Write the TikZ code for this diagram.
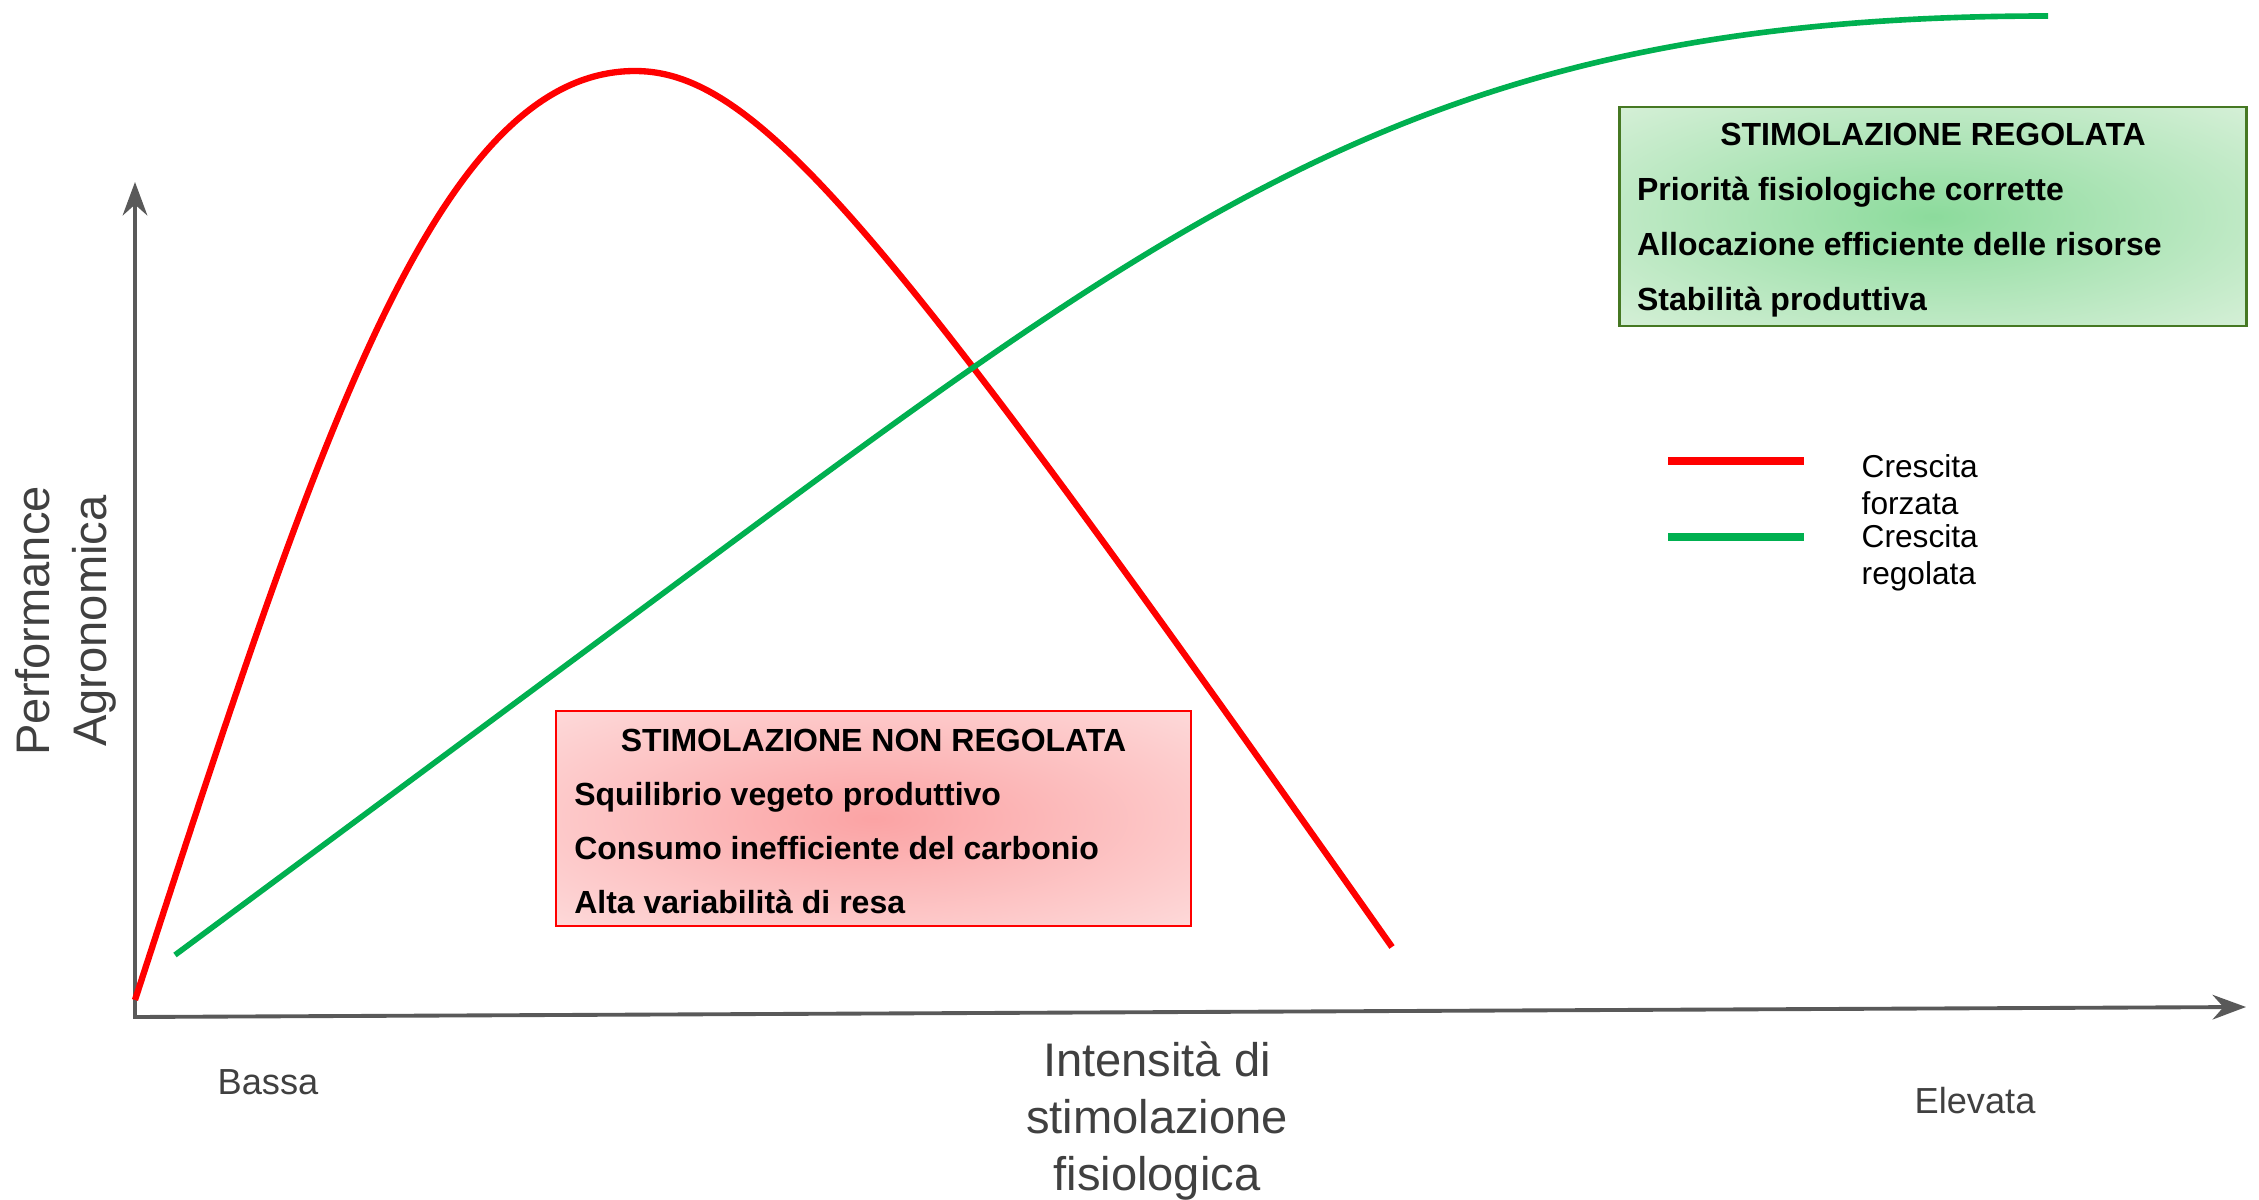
\documentclass[tikz,border=0pt]{standalone}
\usepackage{fontspec}
\setmainfont{Liberation Sans}
\usetikzlibrary{arrows.meta,positioning}

\definecolor{forcedred}{RGB}{255,0,0}
\definecolor{regulgreen}{RGB}{0,176,80}
\definecolor{axisgray}{RGB}{89,89,89}
\definecolor{labelgray}{RGB}{64,64,64}
\definecolor{redcore}{RGB}{251,163,164}
\definecolor{rededge}{RGB}{254,224,224}
\definecolor{greencore}{RGB}{140,219,156}
\definecolor{greenedge}{RGB}{222,242,222}
\definecolor{greenframe}{RGB}{70,120,35}

\pgfdeclareradialshading{redglow}{\pgfpoint{0bp}{0bp}}{%
    color(0bp)=(redcore); color(40bp)=(rededge); color(50bp)=(rededge)}
\pgfdeclareradialshading{greenglow}{\pgfpoint{0bp}{0bp}}{%
    color(0bp)=(greencore); color(40bp)=(greenedge); color(50bp)=(greenedge)}

\begin{document}
\begin{tikzpicture}[%
    x=0.01cm, y=-0.01cm,
    axis/.style={
        draw=axisgray,
        line width=1.1pt,
        {Stealth[length=9.5pt, width=7pt]}-{Stealth[length=9.5pt, width=7pt]},
        },
    forced/.style={draw=forcedred, line width=1.8pt},
    regulated/.style={draw=regulgreen, line width=1.6pt},
    badbox/.style={
        draw=forcedred,
        line width=0.7pt,
        shading=redglow,
        minimum width=6.35cm,
        minimum height=2.15cm,
        inner sep=0,
        },
    goodbox/.style={
        draw=greenframe,
        line width=0.8pt,
        shading=greenglow,
        minimum width=6.26cm,
        minimum height=2.19cm,
        inner sep=0,
        },
    boxtitle/.style={
        font=\fontsize{9.1}{11}\selectfont\bfseries,
        text height=6.5pt,
        text depth=1.9pt,
        inner sep=0,
        },
    boxline/.style={boxtitle, anchor=west},
    endlabel/.style={font=\fontsize{10.3}{12}\selectfont, text=labelgray},
    biglabel/.style={
        font=\fontsize{13.4}{16.2}\selectfont,
        text=labelgray,
        align=center,
        },
    legendtext/.style={
        font=\fontsize{9}{10.5}\selectfont,
        align=left,
        anchor=west,
        inner sep=0,
        },
]

\useasboundingbox (0,0) rectangle (2259,1200);

% axes
\coordinate (origin) at (135,1017);
\coordinate (ytip) at (135,182);
\coordinate (xtip) at (2246,1007);
\draw[axis] (ytip) -- (origin) -- (xtip);

% curves
\coordinate (redstart) at (135,1000);
\coordinate (redpeak) at (635,71);
\coordinate (redend) at (1392,947);
\draw[forced] (redstart) .. controls (315,447) and (435,71) .. (redpeak)
                         .. controls (760,71) and (892,237) .. (redend);

\coordinate (greenstart) at (175,955);
\coordinate (greenbend) at (700,566);
\coordinate (greenend) at (2048,16);
\draw[regulated] (greenstart) -- (greenbend)
                 .. controls (1200,195.5) and (1448,16) .. (greenend);

% boxes
\node[badbox] (nonreg) at (873.5,818.5) {};
\node[boxtitle] (nonregtitle) at ([shift={(0,34)}]nonreg.north) {STIMOLAZIONE NON REGOLATA};
\foreach \txt [count=\i] in {Squilibrio vegeto produttivo,
                             Consumo inefficiente del carbonio,
                             Alta variabilità di resa}{
    \node[boxline] (nonreg\i) at ([shift={(19,34+54*\i)}]nonreg.north west) {\txt};
}

\node[goodbox] (reg) at (1933,216.5) {};
\node[boxtitle] (regtitle) at ([shift={(0,32)}]reg.north) {STIMOLAZIONE REGOLATA};
\foreach \txt [count=\i] in {Priorità fisiologiche corrette,
                             Allocazione efficiente delle risorse,
                             Stabilità produttiva}{
    \node[boxline] (reg\i) at ([shift={(18,32+55*\i)}]reg.north west) {\txt};
}

% legend
\draw[forced, line width=2pt] (1668,461) -- (1804,461);
\draw[regulated, line width=2pt] (1668,537) -- (1804,537);
\node[legendtext] (forcedkey) at (1861,485) {Crescita\\forzata};
\node[legendtext] (regulkey) at (1861,558) {Crescita\\regolata};

% labels
\node[endlabel] (low) at (268,1082) {Bassa};
\node[endlabel] (high) at (1975,1101) {Elevata};
\node[biglabel] (xlabel) at (1157,1121) {Intensità di\\stimolazione\\fisiologica};
\node[biglabel, rotate=90] (ylabel) at (66,621) {Performance\\Agronomica};

\end{tikzpicture}
\end{document}
